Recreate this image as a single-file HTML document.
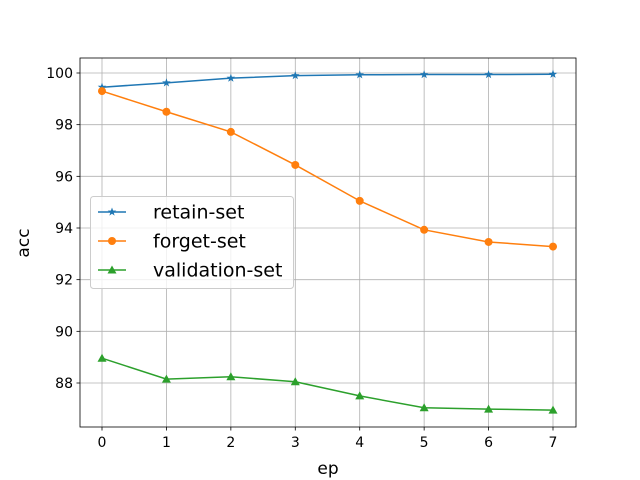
<!DOCTYPE html>
<html><head><meta charset="utf-8"><style>
html,body{margin:0;padding:0;background:#fff}
svg{display:block;font-family:"DejaVu Sans","Liberation Sans",sans-serif}
</style></head><body>
<svg id="chart" width="640" height="480"></svg>
<script>
const epochs=[0,1,2,3,4,5,6,7];
const retainSet=[99.45,99.62,99.8,99.9,99.93,99.94,99.94,99.95];
const forgetSet=[99.3,98.5,97.72,96.44,95.05,93.93,93.46,93.28];
const validationSet=[88.96,88.15,88.24,88.05,87.5,87.04,86.99,86.95];
const xTicks=[0,1,2,3,4,5,6,7];
const yTicks=[88,90,92,94,96,98,100];
const L=80,R=576,T=58,B=427;
const xs=v=>102+(v-0)*(553-102)/7;
const ys=v=>73+(100-v)*(310/12);
const svg=document.getElementById('chart');
const NS='http://www.w3.org/2000/svg';
function mk(t,a,p){const e=document.createElementNS(NS,t);for(const k in a)e.setAttribute(k,a[k]);(p||svg).appendChild(e);return e;}
const grid=mk('g',{});


xTicks.forEach(t=>{
 mk('line',{x1:xs(t),x2:xs(t),y1:T,y2:B,stroke:'#b0b0b0','stroke-width':0.8},grid);
 mk('line',{x1:xs(t),x2:xs(t),y1:B,y2:B+3.5,stroke:'#000','stroke-width':0.8});
 const tx=mk('text',{x:xs(t),y:B+20,'font-size':14,'text-anchor':'middle'});tx.textContent=t;
 
 
});
yTicks.forEach(t=>{
 mk('line',{x1:L,x2:R,y1:ys(t),y2:ys(t),stroke:'#b0b0b0','stroke-width':0.8},grid);
 mk('line',{x1:L-3.5,x2:L,y1:ys(t),y2:ys(t),stroke:'#000','stroke-width':0.8});
 const tx=mk('text',{x:L-7,y:ys(t)+5,'font-size':14,'text-anchor':'end'});tx.textContent=t;
 
 
});
function star(cx,cy,r){let p=[];for(let i=0;i<10;i++){const a=-Math.PI/2+i*Math.PI/5;const rr=i%2?r*0.4:r;p.push((cx+rr*Math.cos(a)).toFixed(1)+','+(cy+rr*Math.sin(a)).toFixed(1));}return p.join(' ');}
function marker(type,cx,cy,c,g){
 if(type==='star')return mk('polygon',{points:star(cx,cy,4.5),fill:c},g);
 if(type==='circle')return mk('circle',{cx,cy,r:4,fill:c},g);
 return mk('polygon',{points:`${cx},${cy-4.5} ${cx-4.5},${cy+3.5} ${cx+4.5},${cy+3.5}`,fill:c},g);
}
const series=[[retainSet,'#1f77b4','star','retain-set'],[forgetSet,'#ff7f0e','circle','forget-set'],[validationSet,'#2ca02c','tri','validation-set']];
series.forEach(([d,c,m,n])=>{
 const g=mk('g',{});
 
 
 mk('polyline',{points:d.map((v,i)=>xs(epochs[i])+','+ys(v)).join(' '),fill:'none',stroke:c,'stroke-width':1.5},g);
 d.forEach((v,i)=>{const e=marker(m,xs(epochs[i]),ys(v),c,g);
  
  });
});
const frame=mk('rect',{x:L,y:T,width:R-L,height:B-T,fill:'none',stroke:'#000','stroke-width':0.8});


const xl=mk('text',{x:328,y:474,'font-size':17,'text-anchor':'middle'});xl.textContent='ep';


const yl=mk('text',{x:0,y:0,'font-size':17,'text-anchor':'middle',transform:'translate(29,243) rotate(-90)'});yl.textContent='acc';


const lg=mk('g',{});


mk('rect',{x:90.5,y:196.5,width:203,height:92,rx:3,fill:'#fff','fill-opacity':0.8,stroke:'#ccc'},lg);
series.forEach(([d,c,m,n],i)=>{
 const y=212+i*29;
 const e=mk('g',{},lg);
 
 
 mk('line',{x1:98,x2:126,y1:y,y2:y,stroke:c,'stroke-width':1.5},e);
 marker(m,112,y,c,e);
 const t=mk('text',{x:153,y:y+6.5,'font-size':19,textLength:null},e);t.textContent=n;
});
</script>
</body></html>
